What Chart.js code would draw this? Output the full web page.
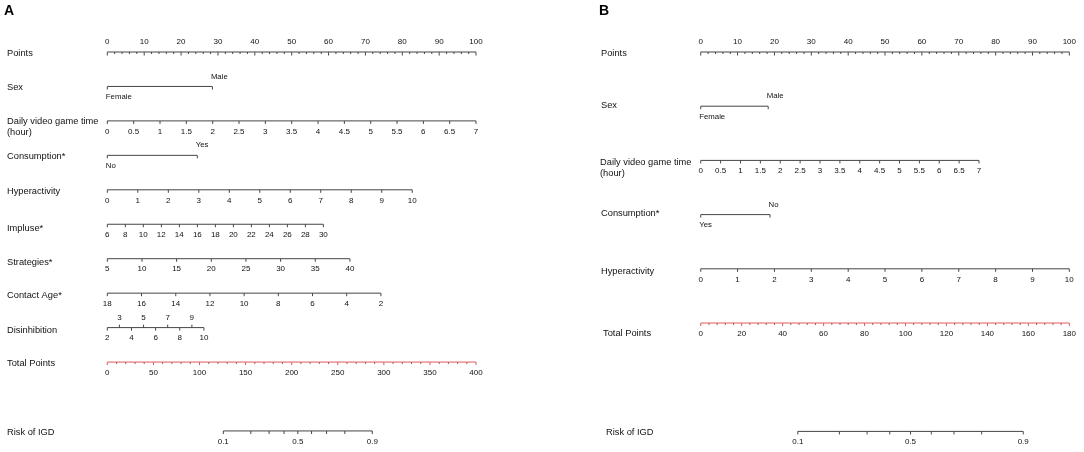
<!DOCTYPE html>
<html>
<head>
<meta charset="utf-8">
<script src="https://cdn.jsdelivr.net/npm/chart.js@4.4.1/dist/chart.umd.min.js"></script>
<style>
  html,body{margin:0;padding:0;background:#fff;}
  #wrap{position:relative;width:1084px;height:452px;}
</style>
</head>
<body>
<div id="wrap"><canvas id="nomo"></canvas></div>
<script>
// ── NOMOGRAM DATA ───────────────────────────────────────────────────────────
// Panel A
const aRowNames = ['Points','Sex','Daily video game time\n(hour)','Consumption*','Hyperactivity','Impluse*','Strategies*','Contact Age*','Disinhibition','Total Points','Risk of IGD'];
const aPointsTicks = [0,10,20,30,40,50,60,70,80,90,100];
const aPointsMinorStep = 2;
const aSexLevels = ['Female','Male'];
const aSexPoints = [0, 28.5];
const aDailyTicks = [0,0.5,1,1.5,2,2.5,3,3.5,4,4.5,5,5.5,6,6.5,7];
const aDailyPoints = [0, 100];
const aConsLevels = ['No','Yes'];
const aConsPoints = [0, 24.4];
const aHyperTicks = [0,1,2,3,4,5,6,7,8,9,10];
const aHyperPoints = [0, 82.7];
const aImpulseTicks = [6,8,10,12,14,16,18,20,22,24,26,28,30];
const aImpulsePoints = [0, 58.6];
const aStratTicks = [5,10,15,20,25,30,35,40];
const aStratPoints = [0, 65.8];
const aContactTicks = [18,16,14,12,10,8,6,4,2];
const aContactPoints = [0, 74.2];
const aDisinhBelow = [2,4,6,8,10];
const aDisinhAbove = [3,5,7,9];
const aDisinhPoints = [0, 26.2];
const aTotalTicks = [0,50,100,150,200,250,300,350,400];
const aTotalMinorStep = 10;
const aRiskTicks = [0.1,0.2,0.3,0.4,0.5,0.6,0.7,0.8,0.9];
const aRiskLabels = ['0.1','','','','0.5','','','','0.9'];
const aRiskTotal = [125.8, 287.5];   // total points at risk 0.1 and 0.9

// Panel B
const bRowNames = ['Points','Sex','Daily video game time\n(hour)','Consumption*','Hyperactivity','Total Points','Risk of IGD'];
const bPointsTicks = [0,10,20,30,40,50,60,70,80,90,100];
const bPointsMinorStep = 2;
const bSexLevels = ['Female','Male'];
const bSexPoints = [0, 18.3];
const bDailyTicks = [0,0.5,1,1.5,2,2.5,3,3.5,4,4.5,5,5.5,6,6.5,7];
const bDailyPoints = [0, 75.5];
const bConsLevels = ['Yes','No'];
const bConsPoints = [0, 18.8];
const bHyperTicks = [0,1,2,3,4,5,6,7,8,9,10];
const bHyperPoints = [0, 100];
const bTotalTicks = [0,20,40,60,80,100,120,140,160,180];
const bTotalMinorStep = 4;
const bRiskTicks = [0.1,0.2,0.3,0.4,0.5,0.6,0.7,0.8,0.9];
const bRiskLabels = ['0.1','','','','0.5','','','','0.9'];
const bRiskTotal = [47.4, 157.5];

// ── LAYOUT ──────────────────────────────────────────────────────────────────
const W = 1084, H = 452;
const aRowPos = [0,1,2,3,4,5,6,7,8,9,11];
const bRowPos = [0,1,2,3,4,5,7];
const aPx = {left:107.3, right:476, top:52, step:34.45, label:7};
const bPx = {left:700.7, right:1069.3, top:52, step:54.2, label:601};
const bLabelDx = [0,0,-1,0,0,2,5];
const bLabelDy = [0,-2,1,-2,2,9,0];
const aLabelDy = [0,0,0,0,1,3,3,1,2,0,0];

const FONT = "'Liberation Sans', Arial, Helvetica, sans-serif";
const textColor = '#111111';
const lineColor = '#454545';
const redColor = '#de5a5e';

// ── HELPERS ─────────────────────────────────────────────────────────────────
function tickImg(len, dir, color) {
  const c = document.createElement('canvas');
  c.width = 3; c.height = len*2 + 2;
  const g = c.getContext('2d');
  g.strokeStyle = color; g.lineWidth = 1;
  g.beginPath(); g.moveTo(1.5, len+1); g.lineTo(1.5, dir > 0 ? 2*len+1 : 1); g.stroke();
  return c;
}
const tickDown = tickImg(3, 1, lineColor);
const tickUp = tickImg(3, -1, lineColor);
const tickMajor = tickImg(3.5, 1, lineColor);
const tickMinor = tickImg(2, 1, lineColor);
const tickRedMajor = tickImg(3, 1, redColor);
const tickRedMinor = tickImg(2, 1, '#b04a4e');

const lin = (v, v0, v1, p0, p1) => p0 + (v - v0) / (v1 - v0) * (p1 - p0);
const logit = p => Math.log(p / (1 - p));
const minorOf = (ticks, step) => {
  const out = [];
  for (let v = ticks[0]; v <= ticks[ticks.length-1] + 1e-9; v += step)
    if (!ticks.some(t => Math.abs(t - v) < 1e-9)) out.push(v);
  return out;
};

const datasets = [];
function addLine(ax, row, p0, p1, color) {
  datasets.push({data:[{x:p0,y:row},{x:p1,y:row}], xAxisID:'x'+ax, yAxisID:'y'+ax,
    showLine:true, borderColor:color||lineColor, borderWidth:1, pointRadius:0});
}
function addTicks(ax, row, xs, style, text, side, align) {
  datasets.push({data: xs.map(x => ({x, y:row})), xAxisID:'x'+ax, yAxisID:'y'+ax,
    showLine:false, pointStyle:style, pointRadius:4,
    tickText:text, tickSide:side||'below', tickAlign:align||'center'});
}
// numeric row: ticks mapped linearly between first/last tick
function numericRow(ax, row, ticks, pts, side) {
  const v0 = ticks[0], v1 = ticks[ticks.length-1];
  const xs = ticks.map(v => lin(v, v0, v1, pts[0], pts[1]));
  addLine(ax, row, pts[0], pts[1]);
  addTicks(ax, row, xs, side === 'above' ? tickUp : tickDown, ticks.map(String), side);
}
function categoryRow(ax, row, levels, pts) {
  addLine(ax, row, pts[0], pts[1]);
  addTicks(ax, row, [pts[0]], tickDown, [levels[0]], 'below', 'left');
  addTicks(ax, row, [pts[1]], tickDown, [levels[1]], 'above', 'left');
}
function pointsRow(ax, row, ticks, minorStep) {
  addLine(ax, row, ticks[0], ticks[ticks.length-1]);
  addTicks(ax, row, ticks, tickMajor, ticks.map(String), 'above');
  addTicks(ax, row, minorOf(ticks, minorStep), tickMinor, null);
}
function totalRow(ax, row, ticks, minorStep) {
  const tMax = ticks[ticks.length-1];
  addLine(ax, row, 0, 100, redColor);
  addTicks(ax, row, ticks.map(t => t / tMax * 100), tickRedMajor, ticks.map(String));
  addTicks(ax, row, minorOf(ticks, minorStep).map(t => t / tMax * 100), tickRedMinor, null);
}
function riskRow(ax, row, probs, labels, totalAt, tMax) {
  const l0 = logit(probs[0]), l1 = logit(probs[probs.length-1]);
  const xs = probs.map(p => lin(logit(p), l0, l1, totalAt[0], totalAt[1]) / tMax * 100);
  addLine(ax, row, xs[0], xs[xs.length-1]);
  addTicks(ax, row, xs, tickDown, labels);
}

// Panel A rows
pointsRow('A', aRowPos[0], aPointsTicks, aPointsMinorStep);
categoryRow('A', aRowPos[1], aSexLevels, aSexPoints);
numericRow('A', aRowPos[2], aDailyTicks, aDailyPoints);
categoryRow('A', aRowPos[3], aConsLevels, aConsPoints);
numericRow('A', aRowPos[4], aHyperTicks, aHyperPoints);
numericRow('A', aRowPos[5], aImpulseTicks, aImpulsePoints);
numericRow('A', aRowPos[6], aStratTicks, aStratPoints);
numericRow('A', aRowPos[7], aContactTicks, aContactPoints);
{ // Disinhibition: even values below, odd values above
  const v0 = aDisinhBelow[0], v1 = aDisinhBelow[aDisinhBelow.length-1];
  const m = v => lin(v, v0, v1, aDisinhPoints[0], aDisinhPoints[1]);
  addLine('A', aRowPos[8], aDisinhPoints[0], aDisinhPoints[1]);
  addTicks('A', aRowPos[8], aDisinhBelow.map(m), tickDown, aDisinhBelow.map(String), 'below');
  addTicks('A', aRowPos[8], aDisinhAbove.map(m), tickUp, aDisinhAbove.map(String), 'above');
}
totalRow('A', aRowPos[9], aTotalTicks, aTotalMinorStep);
riskRow('A', aRowPos[10], aRiskTicks, aRiskLabels, aRiskTotal, aTotalTicks[aTotalTicks.length-1]);

// Panel B rows
pointsRow('B', bRowPos[0], bPointsTicks, bPointsMinorStep);
categoryRow('B', bRowPos[1], bSexLevels, bSexPoints);
numericRow('B', bRowPos[2], bDailyTicks, bDailyPoints);
categoryRow('B', bRowPos[3], bConsLevels, bConsPoints);
numericRow('B', bRowPos[4], bHyperTicks, bHyperPoints);
totalRow('B', bRowPos[5], bTotalTicks, bTotalMinorStep);
riskRow('B', bRowPos[6], bRiskTicks, bRiskLabels, bRiskTotal, bTotalTicks[bTotalTicks.length-1]);

// scale ranges so that points 0..100 and row steps land where the figure puts them
function xRange(px) { const k = (px.right - px.left) / 100; return {min: -px.left / k, max: (W - px.left) / k}; }
function yRange(px) { return {min: -px.top / px.step, max: (H - px.top) / px.step}; }

// ── TEXT PLUGIN ─────────────────────────────────────────────────────────────
const nomoText = {
  id: 'nomoText',
  afterDatasetsDraw(chart) {
    const ctx = chart.ctx;
    ctx.save();
    ctx.fillStyle = textColor;
    ctx.textBaseline = 'middle';
    chart.data.datasets.forEach((ds, i) => {
      if (!ds.tickText) return;
      const meta = chart.getDatasetMeta(i);
      const cat = ds.tickAlign === 'left';
      ctx.font = (cat ? '7.8px ' : '8px ') + FONT;
      ctx.textAlign = ds.tickAlign;
      meta.data.forEach((pt, j) => {
        const t = ds.tickText[j];
        if (!t) return;
        const dy = ds.tickSide === 'above' ? -10 : 10.5;
        ctx.fillText(t, pt.x + (cat ? -1.5 : 0), pt.y + dy);
      });
    });
    // row names
    ctx.font = '9.3px ' + FONT;
    ctx.textAlign = 'left';
    const drawNames = (names, rows, ys, x0, dxs, dys) => {
      names.forEach((n, i) => {
        const y = ys.getPixelForValue(rows[i]) + 1 + dys[i];
        n.split('\n').forEach((line, k) => ctx.fillText(line, x0 + dxs[i], y + k * 11));
      });
    };
    drawNames(aRowNames, aRowPos, chart.scales.yA, aPx.label, aRowNames.map(() => 0), aLabelDy);
    drawNames(bRowNames, bRowPos, chart.scales.yB, bPx.label, bLabelDx, bLabelDy);
    // panel letters
    ctx.font = 'bold 14px ' + FONT;
    ctx.textBaseline = 'alphabetic';
    ctx.fillStyle = '#000';
    ctx.fillText('A', 4, 15);
    ctx.fillText('B', 599, 15);
    ctx.restore();
  }
};

const hidden = {display:false};
const scaleOpts = (axis, range, rev) => Object.assign({type:'linear', axis, display:false, bounds:'data', reverse:!!rev, grace:0}, range);
new Chart(document.getElementById('nomo'), {
  type: 'scatter',
  data: {datasets},
  options: {
    responsive: true, maintainAspectRatio: false,
    animation: false, events: [],
    layout: {padding: 0, autoPadding: false},
    plugins: {legend: hidden, tooltip: {enabled:false}},
    scales: {
      xA: scaleOpts('x', xRange(aPx)),
      xB: scaleOpts('x', xRange(bPx)),
      yA: scaleOpts('y', yRange(aPx), true),
      yB: scaleOpts('y', yRange(bPx), true),
    }
  },
  plugins: [nomoText]
});
</script>
</body>
</html>
